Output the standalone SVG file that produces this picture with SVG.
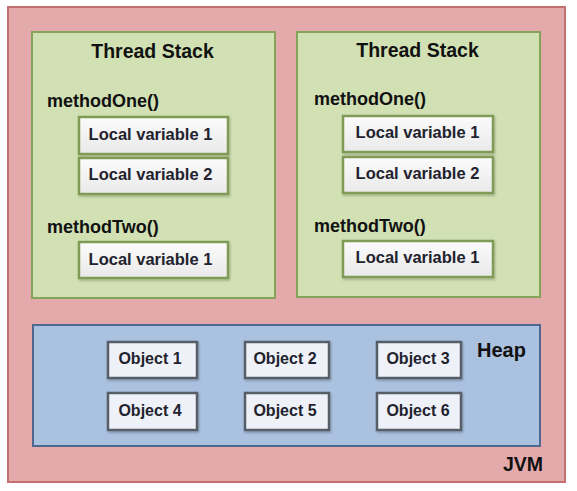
<svg xmlns="http://www.w3.org/2000/svg" width="577" height="491" viewBox="0 0 577 491">
  <defs>
    <linearGradient id="gLocal" x1="0" y1="0" x2="0" y2="1">
      <stop offset="0" stop-color="#fbfbfb"/>
      <stop offset="1" stop-color="#e9e9e9"/>
    </linearGradient>
    <filter id="sh" x="-10%" y="-10%" width="130%" height="140%">
      <feDropShadow dx="1" dy="1.5" stdDeviation="1" flood-color="#000" flood-opacity="0.25"/>
    </filter>
  </defs>
  <style>
    text { font-family: "Liberation Sans", Arial, sans-serif; font-weight: bold; }
    .jvm { fill: #e4aaab; stroke: #c46f70; stroke-width: 2; }
    .stack { fill: #d2e1b4; stroke: #86a35a; stroke-width: 2; }
    .local { fill: url(#gLocal); stroke: #7f9b55; stroke-width: 2.5; filter: url(#sh); }
    .heap { fill: #aac1df; stroke: #4f6890; stroke-width: 2; }
    .obj { fill: #eef2f8; stroke: #575f68; stroke-width: 2.5; filter: url(#sh); }
    .title { font-size: 19.5px; fill: #111; }
    .method { font-size: 18px; fill: #111; }
    .ltxt { font-size: 16.5px; fill: #22222e; text-anchor: middle; }
    .otxt { font-size: 16px; fill: #22222e; text-anchor: middle; }
  </style>

  <g id="jvm">
    <rect class="jvm" x="8" y="7" width="557" height="475"/>
    <text class="title" x="503" y="471">JVM</text>
  </g>

  <g id="thread-stack-1">
    <rect class="stack" x="32" y="32" width="243" height="266"/>
    <text class="title" x="152.5" y="58" text-anchor="middle">Thread Stack</text>
    <text class="method" x="47" y="107">methodOne()</text>
    <text class="method" x="47" y="233">methodTwo()</text>
  </g>
  <g id="s1-local1">
    <rect class="local" x="79" y="117" width="149" height="37"/>
    <text class="ltxt" x="150.5" y="140">Local variable 1</text>
  </g>
  <g id="s1-local2">
    <rect class="local" x="79" y="158" width="149" height="36"/>
    <text class="ltxt" x="150.5" y="180">Local variable 2</text>
  </g>
  <g id="s1-local3">
    <rect class="local" x="79" y="242" width="149" height="36"/>
    <text class="ltxt" x="150.5" y="265">Local variable 1</text>
  </g>

  <g id="thread-stack-2">
    <rect class="stack" x="297" y="32" width="243" height="265"/>
    <text class="title" x="417.5" y="57" text-anchor="middle">Thread Stack</text>
    <text class="method" x="314" y="105">methodOne()</text>
    <text class="method" x="314" y="232">methodTwo()</text>
  </g>
  <g id="s2-local1">
    <rect class="local" x="343" y="116" width="150" height="36"/>
    <text class="ltxt" x="417.5" y="138">Local variable 1</text>
  </g>
  <g id="s2-local2">
    <rect class="local" x="343" y="157" width="150" height="36"/>
    <text class="ltxt" x="417.5" y="179">Local variable 2</text>
  </g>
  <g id="s2-local3">
    <rect class="local" x="343" y="241" width="150" height="36"/>
    <text class="ltxt" x="417.5" y="263">Local variable 1</text>
  </g>

  <g id="heap">
    <rect class="heap" x="33" y="325" width="507" height="121"/>
    <text class="title" x="477" y="357" style="font-size:20px">Heap</text>
  </g>
  <g id="object-1">
    <rect class="obj" x="108" y="342" width="89" height="36"/>
    <text class="otxt" x="150" y="364">Object 1</text>
  </g>
  <g id="object-2">
    <rect class="obj" x="245" y="342" width="84" height="36"/>
    <text class="otxt" x="285" y="364">Object 2</text>
  </g>
  <g id="object-3">
    <rect class="obj" x="377" y="342" width="84" height="36"/>
    <text class="otxt" x="418" y="364">Object 3</text>
  </g>
  <g id="object-4">
    <rect class="obj" x="108" y="393" width="89" height="37"/>
    <text class="otxt" x="150" y="416">Object 4</text>
  </g>
  <g id="object-5">
    <rect class="obj" x="245" y="393" width="84" height="37"/>
    <text class="otxt" x="285" y="416">Object 5</text>
  </g>
  <g id="object-6">
    <rect class="obj" x="377" y="393" width="84" height="37"/>
    <text class="otxt" x="418" y="416">Object 6</text>
  </g>

  <g id="connectors"></g>
</svg>
